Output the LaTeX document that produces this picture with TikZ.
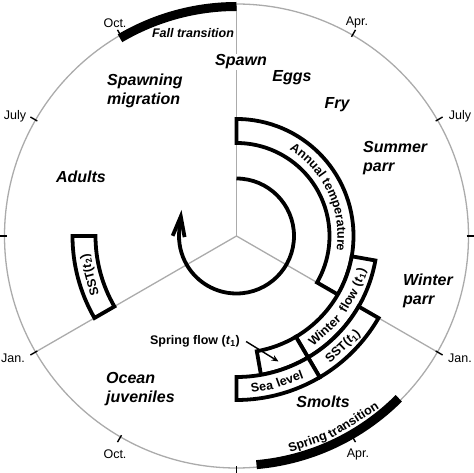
\documentclass[tikz,border=0pt]{standalone}
\usepackage{fontspec}
\setmainfont{Liberation Sans}
\usetikzlibrary{arrows.meta,decorations.text}
\definecolor{gridgrey}{HTML}{ABABAB}
\tikzset{
  gridline/.style={draw=gridgrey, line width=1.3pt},
  band/.style={draw=black, fill=white, line width=3.8pt},
  transbar/.style={draw=black, line width=9pt, line cap=butt},
  tickmark/.style={draw=black, line width=1.4pt},
  stage/.style={font=\fontsize{16}{19}\selectfont\bfseries\itshape, align=left, inner sep=0pt},
  month/.style={font=\fontsize{12.5}{14}\selectfont, inner sep=0pt},
  lbl/.style={font=\fontsize{12.5}{14}\selectfont\bfseries, inner sep=0pt},
  bandword/.style={font=\fontsize{12.5}{14}\selectfont\bfseries, inner sep=0pt, anchor=base},
  cyclearrow/.style={draw=black, line width=3.8pt, -{Straight Barb[length=20pt,width=12pt]}},
  pointer/.style={draw=black, line width=1.4pt, -{Stealth[length=7pt,width=6pt]}},
}
\begin{document}
\begin{tikzpicture}[x=1pt,y=1pt]
\useasboundingbox (0,0) rectangle (474,472);
\begin{scope}[shift={(236.5,236)}]
  \coordinate (ctr) at (0,0);
  \draw[gridline] (ctr) circle[radius=232];
  \draw[gridline] (ctr) -- (90:232);
  \draw[gridline] (ctr) -- (210:232);
  \draw[gridline] (ctr) -- (330:232);
  \foreach \a in {0,30,60,120,150,180,210,240,270,300,330}
    \draw[tickmark] (\a:230) -- (\a:238);
  \draw[transbar] (90:229.5) arc[start angle=90,end angle=120.5,radius=229.5];
  \draw[transbar] (-85:229.5) arc[start angle=-85,end angle=-45,radius=229.5];
  % cycle arrow
  \draw[cyclearrow] (90:57.5) arc[start angle=90,end angle=-185,radius=57.5] -- (-55,26);
  % bands
  \draw[band] (90:93) -- (90:117) arc[start angle=90,end angle=-30,radius=117] -- (-30:93) arc[start angle=-30,end angle=90,radius=93] -- cycle;
  \draw[band] (-10:117) -- (-10:141) arc[start angle=-10,end angle=-59.5,radius=141] -- (-59.5:117) arc[start angle=-59.5,end angle=-10,radius=117] -- cycle;
  \draw[band] (-59.5:117) -- (-59.5:141) arc[start angle=-59.5,end angle=-80,radius=141] -- (-80:117) arc[start angle=-80,end angle=-59.5,radius=117] -- cycle;
  \draw[band] (-30:141) -- (-30:164) arc[start angle=-30,end angle=-59.5,radius=164] -- (-59.5:141) arc[start angle=-59.5,end angle=-30,radius=141] -- cycle;
  \draw[band] (-59.5:141) -- (-59.5:164) arc[start angle=-59.5,end angle=-90,radius=164] -- (-90:141) arc[start angle=-90,end angle=-59.5,radius=141] -- cycle;
  \draw[band] (180:141) -- (180:164) arc[start angle=180,end angle=210,radius=164] -- (210:141) arc[start angle=210,end angle=180,radius=141] -- cycle;
  % band texts
  \path[decorate,decoration={text along path,text align=center,
    text={|\fontsize{12.5}{14}\selectfont\bfseries|Annual temperature}}]
    (60:101) arc[start angle=60,end angle=-10,radius=101];
  \node[bandword, rotate=-47+90] (wf1) at (-47:133.5) {Winter};
  \node[bandword, rotate=-30+90] (wf2) at (-30:133.5) {flow};
  \node[bandword, rotate=-18.5+90] (wf3) at (-18.5:133.5) {(\textit{t}\textsubscript{1})};
  \node[bandword, rotate=-46+90] (sst1) at (-46:157) {SST(\textit{t}\textsubscript{1})};
  \node[bandword, rotate=-80.4+90] (sl1) at (-80.4:157) {Sea};
  \node[bandword, rotate=-69.6+90] (sl2) at (-69.6:157) {level};
  \node[bandword, rotate=195-90] (sst2) at (195:148) {SST(\textit{t}\textsubscript{2})};
  \node[bandword, rotate=-71+90] (st1) at (-71:222) {Spring};
  \node[bandword, rotate=-57.6+90] (st2) at (-57.6:222) {transition};
\end{scope}
% stage labels
\node[stage, fill=white, inner sep=1pt] (spawn) at (241,410) {Spawn};
\node[stage] (eggs) at (292,394) {Eggs};
\node[stage] (fry) at (337,367) {Fry};
\node[stage, anchor=west] (sparr) at (363,314) {Summer\\parr};
\node[stage, anchor=west] (wparr) at (403,181.5) {Winter\\parr};
\node[stage] (smolts) at (323,70) {Smolts};
\node[stage, anchor=west] (ocean) at (106,82.5) {Ocean\\juveniles};
\node[stage] (adults) at (81,295) {Adults};
\node[stage, anchor=west] (spmig) at (107,381) {Spawning\\migration};
% months
\node[month] (m1) at (115,449) {Oct.};
\node[month] (m2) at (357,450) {Apr.};
\node[month] (m3) at (15,356) {July};
\node[month] (m4) at (460,356) {July};
\node[month] (m5) at (13,114) {Jan.};
\node[month] (m6) at (460,114) {Jan.};
\node[month] (m7) at (115,18) {Oct.};
\node[month] (m8) at (358,18) {Apr.};
% other labels
\node[lbl, font=\fontsize{12.5}{14}\selectfont\bfseries\itshape] (fall) at (193,439) {Fall transition};
\node[lbl] (sflbl) at (195,130.5) {Spring flow (\textit{t}\textsubscript{1})};
\coordinate (sfend) at (278.5,110.5);
\draw[pointer] ([xshift=6pt]sflbl.east) -- (sfend);
\end{tikzpicture}
\end{document}
